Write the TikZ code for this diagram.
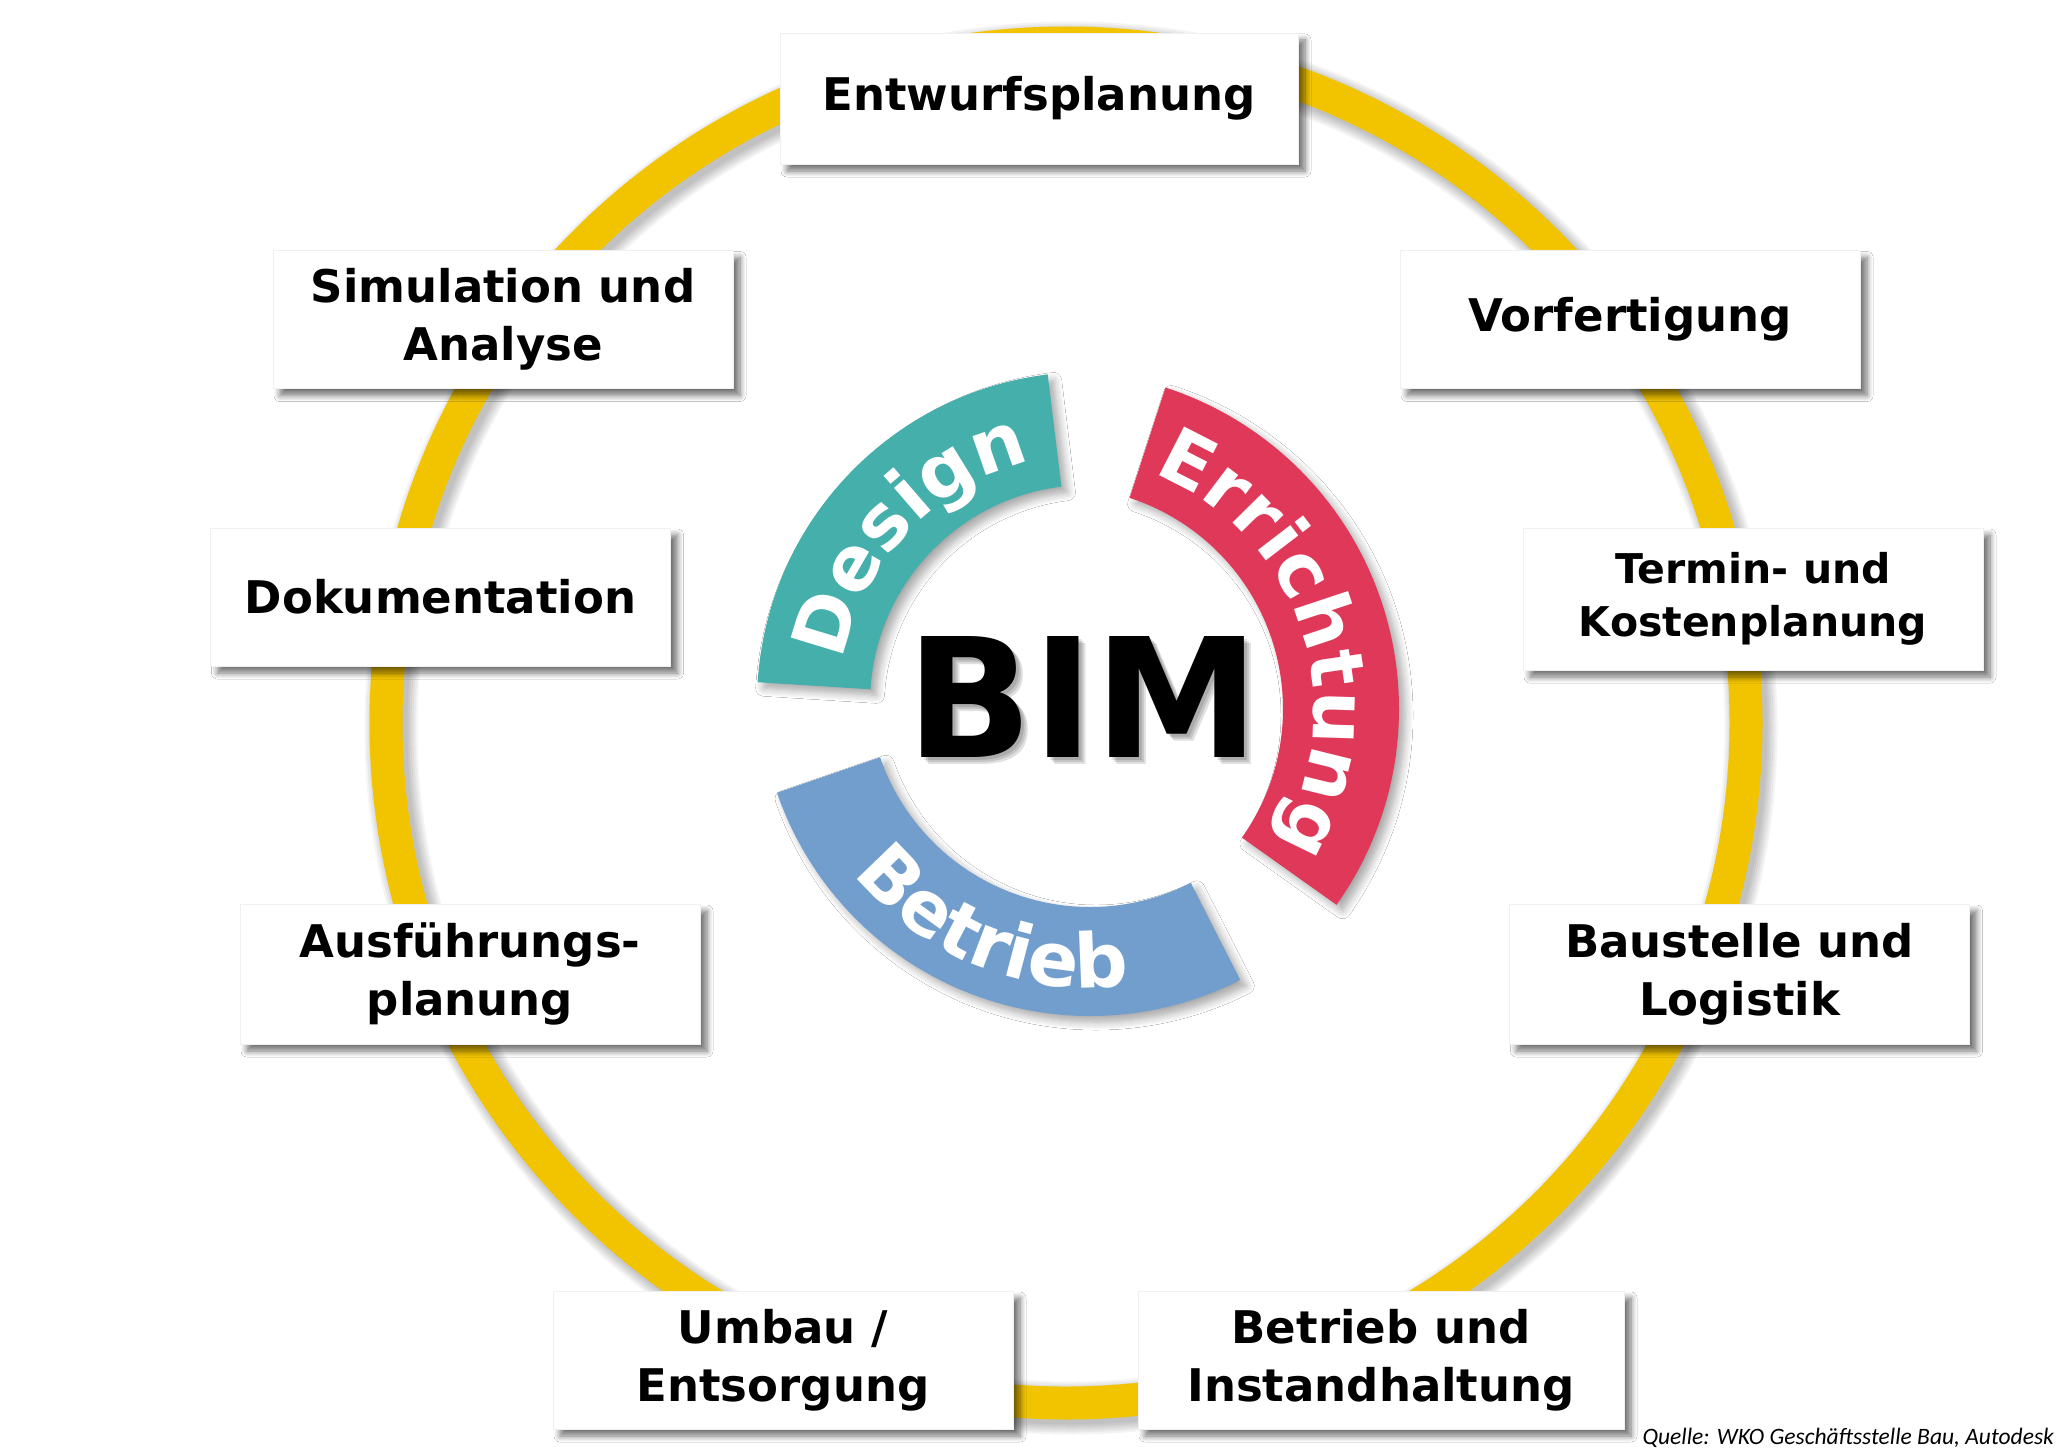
\documentclass[tikz,border=0pt]{standalone}
\usepackage{fontspec}
\usetikzlibrary{decorations.text,shadows.blur}
\newfontfamily\labfont{DejaVu Sans}
\newfontfamily\srcfont{Carlito}
\definecolor{ringyel}{RGB}{242,196,0}
\definecolor{dsgteal}{RGB}{69,175,172}
\definecolor{errred}{RGB}{224,56,89}
\definecolor{betblue}{RGB}{114,158,206}
\newcommand\arcfmt{\labfont\bfseries\fontsize{75}{75}\selectfont\color{white}}
\tikzset{
  stagebox/.style={fill=white, draw=black!6, line width=0.6pt, align=center, inner sep=0pt,
    minimum width=460pt, minimum height=138pt,
    font=\labfont\bfseries\fontsize{45}{58}\selectfont, text=black,
    blur shadow={shadow xshift=7pt, shadow yshift=-7pt, shadow blur radius=6pt, shadow opacity=55, shadow blur steps=8}},
  arcshadow/.style={blur shadow={shadow xshift=6pt, shadow yshift=-6pt, shadow blur radius=8pt, shadow opacity=35, shadow blur steps=8}},
  arclabel/.style={decorate, decoration={text along path, text align=center, text={|\arcfmt|#1}}},
  bimtext/.style={inner sep=0pt, font=\labfont\bfseries\fontsize{166}{166}\selectfont},
}
\begin{document}
\begin{tikzpicture}[x=1pt,y=1pt]
\fill[white] (0,0) rectangle (2060,-1455);
\useasboundingbox (0,0) rectangle (2060,-1455);

% yellow ring with soft shadow
\coordinate (ringc) at (1066,-723);
\foreach \w in {33,37,41,45,49,53}
  \draw[black, opacity=0.045, line width=\w pt] ([shift={(5,-5)}]ringc) circle[radius=680];
\draw[ringyel, line width=33pt] (ringc) circle[radius=680];

% central arcs
\fill[dsgteal, arcshadow, shift={(1088,-703)}]
  (97:331) arc[start angle=97, end angle=176.4, radius=331] -- (176.4:218)
  arc[start angle=176.4, end angle=97, radius=218] -- cycle;
\fill[errred, arcshadow, shift={(1061,-709)}]
  (72:338) arc[start angle=72, end angle=-35.4, radius=338] -- (-35.4:222)
  arc[start angle=-35.4, end angle=72, radius=222] -- cycle;
\fill[betblue, arcshadow, shift={(1090,-685)}]
  (199:331) arc[start angle=199, end angle=297, radius=331] -- (297:222)
  arc[start angle=297, end angle=199, radius=222] -- cycle;

\path[arclabel=Design, shift={(1088,-703)}]
  (176.4:248) arc[start angle=176.4, end angle=97, radius=248];
\path[arclabel=Errichtung, shift={(1061,-709)}]
  (72:253) arc[start angle=72, end angle=-35.4, radius=253];
\path[arclabel=Betrieb, shift={(1090,-685)}]
  (199:303) arc[start angle=199, end angle=297, radius=303];

% BIM with soft shadow
\foreach \s in {3,5,7}
  \node[bimtext, text=black, opacity=0.12] at (1083+\s,-697-\s) {BIM};
\node[bimtext, text=black] (bim) at (1083,-697) {BIM};

% stage boxes
\node[stagebox, minimum width=518pt, minimum height=131pt] (entw) at (1039,-98.5) {Entwurfsplanung};
\node[stagebox] (sim) at (503,-319.5) {Simulation und\\Analyse};
\node[stagebox] (vorf) at (1630,-319.5) {Vorfertigung};
\node[stagebox] (doku) at (440.5,-597) {Dokumentation};
\node[stagebox, minimum height=142pt, font=\labfont\bfseries\fontsize{41}{53}\selectfont] (term) at (1753,-599) {Termin- und\\Kostenplanung};
\node[stagebox, minimum height=140pt] (ausf) at (470,-974) {Ausführungs-\\planung};
\node[stagebox, minimum height=140pt] (baust) at (1739.5,-974) {Baustelle und\\Logistik};
\node[stagebox] (umbau) at (783,-1360) {Umbau /\\Entsorgung};
\node[stagebox, minimum width=486pt] (betr) at (1381,-1360) {Betrieb und\\Instandhaltung};

% source
\node[anchor=base east, inner sep=0pt, font=\srcfont\itshape\fontsize{23.5}{23.5}\selectfont] (src) at (2054,-1444) {Quelle: WKO Geschäftsstelle Bau, Autodesk};
\end{tikzpicture}
\end{document}
